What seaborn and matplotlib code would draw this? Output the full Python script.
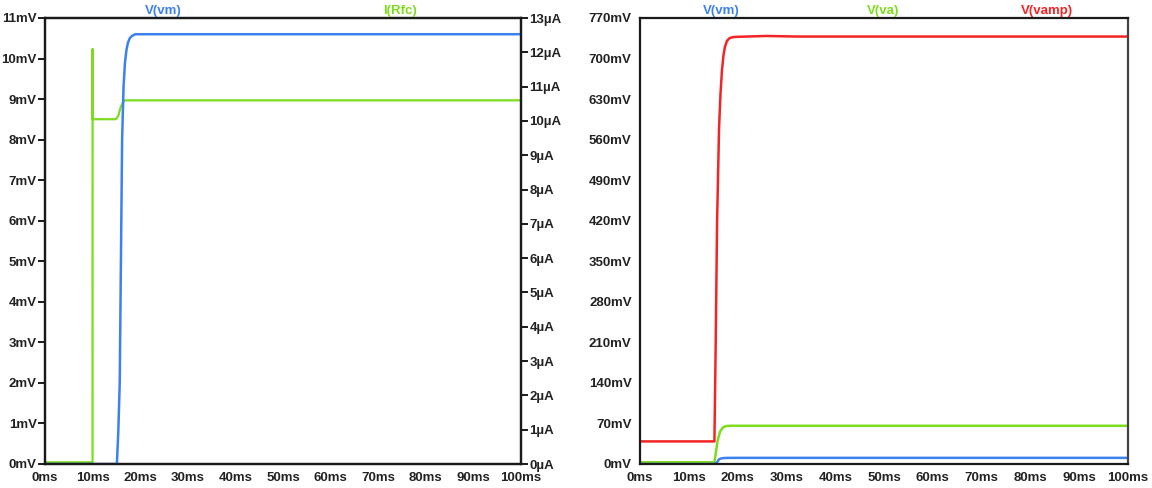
import numpy as np
import pandas as pd
import matplotlib
matplotlib.use("Agg")
import matplotlib.pyplot as plt
import seaborn as sns

sns.set_theme(style="white")
plt.rcParams['font.family'] = ['Liberation Sans', 'DejaVu Sans']
plt.rcParams['font.weight'] = 'bold'

# ---- data (time in ms) ----
t_vm = [0, 15.1, 15.4, 15.7, 16.2, 16.5, 16.8, 17.1, 17.4, 17.8, 18.3, 19.0, 100]
v_vm = [0, 0, 0.8, 2.0, 8.0, 9.3, 9.9, 10.2, 10.38, 10.5, 10.56, 10.6, 10.6]   # mV

t_rfc = [0, 9.99, 10.0, 10.01, 14.9, 15.4, 15.9, 16.4, 16.8, 100]
i_rfc = [0.05, 0.05, 12.1, 10.05, 10.05, 10.15, 10.4, 10.55, 10.6, 10.6]      # uA

t_va = [0, 15.25, 15.9, 16.4, 17.0, 17.6, 18.5, 100]
v_va = [3, 3, 40, 56, 63, 65.5, 66, 66]                                      # mV

t_vamp = [0, 15.25, 15.5, 15.8, 16.2, 16.5, 16.8, 17.1, 17.4, 17.8, 18.3, 19.0,
          20, 26, 32, 100]
v_vamp = [39, 39, 200, 420, 580, 640, 680, 705, 720, 730, 735, 737,
          737.5, 739, 738, 738]                                              # mV

x_ticks = list(range(0, 101, 10))
x_labels = [f"{v}ms" for v in x_ticks]
left_mv_ticks = list(range(0, 12))
left_mv_labels = [f"{v}mV" for v in left_mv_ticks]
right_ua_ticks = list(range(0, 14))
right_ua_labels = [f"{v}µA" for v in right_ua_ticks]
amp_ticks = list(range(0, 771, 70))
amp_labels = [f"{v}mV" for v in amp_ticks]

BLUE = "#3d80f0"
GREEN = "#7ddc1e"
RED = "#f42424"
FS = 9.5

fig = plt.figure(figsize=(11.52, 4.88), dpi=100)
W, H = 1152, 488
def axrect(l, r, t, b):
    return [l / W, 1 - b / H, (r - l) / W, (b - t) / H]

ax1 = fig.add_axes(axrect(45, 521, 18, 464))
ax1r = ax1.twinx()
ax2 = fig.add_axes(axrect(640, 1128, 18, 464))

def style(ax):
    for s in ax.spines.values():
        s.set_visible(True)
        s.set_color("#1a1a1a")
        s.set_linewidth(1.6)
    ax.tick_params(axis='both', direction='out', length=5, width=1.4,
                   color="#1a1a1a", labelsize=FS, labelcolor="#222222", pad=1)
    ax.grid(False)
    ax.set_facecolor("white")

# left panel
sns.lineplot(x=t_vm, y=v_vm, ax=ax1, color=BLUE, lw=1.8, sort=False, estimator=None)
sns.lineplot(x=t_rfc, y=i_rfc, ax=ax1r, color=GREEN, lw=1.6, sort=False, estimator=None)
ax1.set_xlim(0, 100)
ax1.set_ylim(0, 11)
ax1r.set_ylim(0, 13)
ax1.set_xticks(x_ticks, x_labels)
ax1.set_yticks(left_mv_ticks, left_mv_labels)
ax1r.set_yticks(right_ua_ticks, right_ua_labels)
ax1.set_zorder(ax1r.get_zorder() + 1)
ax1.patch.set_visible(False)
for a in (ax1, ax1r):
    style(a)
    a.set_xlabel("")
    a.set_ylabel("")
for lbl in ax1.get_xticklabels() + ax1.get_yticklabels() + ax1r.get_yticklabels():
    lbl.set_fontweight("bold")

# right panel
sns.lineplot(x=t_vamp, y=v_vamp, ax=ax2, color=RED, lw=1.8, sort=False, estimator=None)
sns.lineplot(x=t_va, y=v_va, ax=ax2, color=GREEN, lw=1.8, sort=False, estimator=None)
sns.lineplot(x=t_vm, y=v_vm, ax=ax2, color=BLUE, lw=1.8, sort=False, estimator=None)
ax2.set_xlim(0, 100)
ax2.set_ylim(0, 770)
ax2.set_xticks(x_ticks, x_labels)
ax2.set_yticks(amp_ticks, amp_labels)
style(ax2)
ax2.spines['right'].set_color("#444444")
ax2.set_xlabel("")
ax2.set_ylabel("")
for lbl in ax2.get_xticklabels() + ax2.get_yticklabels():
    lbl.set_fontweight("bold")

# trace headers
hy = 1 - 11 / H
for x, txt, c in [(163, "V(vm)", BLUE), (400, "I(Rfc)", GREEN),
                  (721, "V(vm)", BLUE), (883, "V(va)", GREEN), (1047, "V(vamp)", RED)]:
    fig.text(x / W, hy, txt, color=c, fontsize=FS, fontweight="bold",
             ha="center", va="center")

fig.savefig("out.png", dpi=100, facecolor="white")
